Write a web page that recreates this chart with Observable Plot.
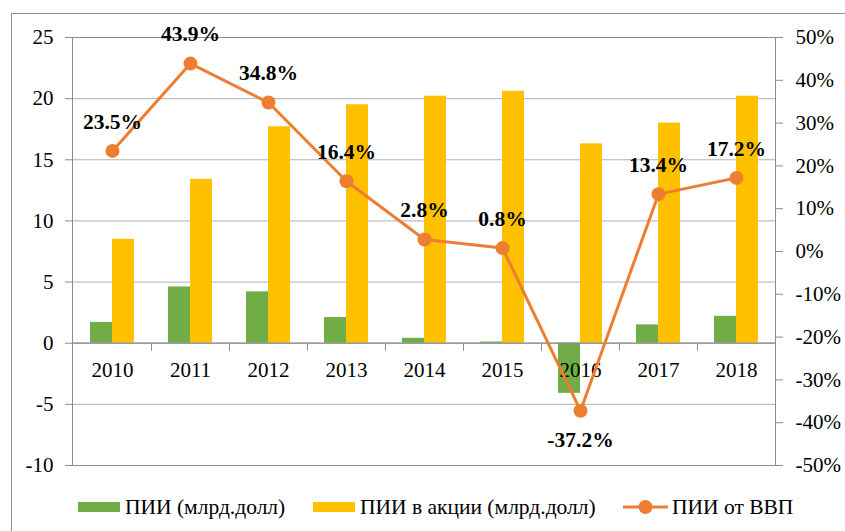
<!DOCTYPE html>
<html>
<head>
<meta charset="utf-8">
<script src="https://cdn.jsdelivr.net/npm/d3@7"></script>
<script src="https://cdn.jsdelivr.net/npm/@observablehq/plot@0.6"></script>
<style>
  html, body { margin: 0; padding: 0; background: #fff; width: 845px; height: 531px; overflow: hidden; }
  body { position: relative; font-family: "Liberation Serif", "Times New Roman", serif; }
  #frame { position: absolute; left: 11px; top: 13px; width: 900px; height: 600px; border: 1px solid #8f8f8f; }
  #chart { position: absolute; left: 0; top: 0; }
  .leg { position: absolute; top: 494px; height: 26px; display: flex; align-items: center; font-size: 21.5px; color: #000; white-space: nowrap; font-family: "Liberation Serif", "Times New Roman", serif; }
  .sw { width: 42px; height: 10px; margin-right: 5px; }
  .lsw { width: 45px; height: 16px; margin-right: 4px; }
</style>
</head>
<body>
<div id="frame"></div>
<div id="chart"></div>
<script>
// ---- data ----
const years = [2010, 2011, 2012, 2013, 2014, 2015, 2016, 2017, 2018];
const fdi = [1.7, 4.6, 4.2, 2.1, 0.4, 0.1, -4.1, 1.5, 2.2];           // ПИИ (млрд.долл)
const fdiEquity = [8.5, 13.4, 17.7, 19.5, 20.2, 20.6, 16.3, 18.0, 20.2]; // ПИИ в акции (млрд.долл)
const fdiGdp = [23.5, 43.9, 34.8, 16.4, 2.8, 0.8, -37.2, 13.4, 17.2];   // ПИИ от ВВП, %
const leftTicks = [-10, -5, 0, 5, 10, 15, 20, 25];
const rightTicks = [-50, -40, -30, -20, -10, 0, 10, 20, 30, 40, 50];
const seriesNames = ["ПИИ (млрд.долл)", "ПИИ в акции (млрд.долл)", "ПИИ от ВВП"];
const colors = ["#70AD47", "#FFC000", "#ED7D31"];

// map percent (right axis, -50..50) onto the left axis (-10..25)
const toLeft = p => -10 + (p + 50) * 0.35;
const fromLeft = v => Math.round((v + 10) / 0.35 - 50);

const barsA = years.map((y, i) => ({year: y, v: fdi[i]}));
const barsB = years.map((y, i) => ({year: y, v: fdiEquity[i]}));
const pts = years.map((y, i) => ({year: y, p: fdiGdp[i]}));

const gridColor = "#b0b0b0";
const axisColor = "#8c8c8c";
const FS = 21;

const chart = Plot.plot({
  width: 845,
  height: 480,
  marginLeft: 72,
  marginRight: 70,
  marginTop: 37,
  marginBottom: 15,
  style: {fontFamily: "'Liberation Serif', 'Times New Roman', serif", fontSize: FS + "px", background: "transparent", color: "#000"},
  x: {type: "band", domain: years, padding: 0, axis: null},
  y: {domain: [-10, 25], axis: null},
  marks: [
    Plot.ruleY(leftTicks, {stroke: gridColor, strokeWidth: 1}),
    Plot.frame({stroke: axisColor}),
    Plot.axisY({anchor: "left", label: null, ticks: leftTicks, tickFormat: d => String(d), tickSize: 7, tickPadding: 12, stroke: axisColor, fill: "#000", fontSize: FS}),
    Plot.axisY({anchor: "right", label: null, ticks: rightTicks.map(toLeft), tickFormat: v => String(fromLeft(v)) + "%", tickSize: 7, tickPadding: 13, stroke: axisColor, fill: "#000", fontSize: FS}),
    Plot.barY(barsA, {x: "year", y: "v", fill: colors[0], insetLeft: 17, insetRight: 39}),
    Plot.barY(barsB, {x: "year", y: "v", fill: colors[1], insetLeft: 39, insetRight: 17}),
    Plot.ruleY([0], {stroke: axisColor, strokeWidth: 1.2}),
    Plot.ruleX(years.slice(1), {x: d => d, dx: -39, y1: 0, y2: -0.65, stroke: axisColor}),
    Plot.text(years, {x: d => d, y: 0, dy: 27, text: d => String(d), fontSize: FS, fill: "#000"}),
    Plot.line(pts, {x: "year", y: d => toLeft(d.p), stroke: colors[2], strokeWidth: 3}),
    Plot.dot(pts, {x: "year", y: d => toLeft(d.p), r: 7, fill: colors[2], stroke: "none"}),
    Plot.text(pts.filter(d => d.p >= 0), {x: "year", y: d => toLeft(d.p), dy: -29, text: d => d.p.toFixed(1) + "%", fontWeight: "bold", fontSize: 21.5, fill: "#000"}),
    Plot.text(pts.filter(d => d.p < 0), {x: "year", y: d => toLeft(d.p), dy: 29, text: d => d.p.toFixed(1) + "%", fontWeight: "bold", fontSize: 21.5, fill: "#000"})
  ]
});
document.getElementById("chart").appendChild(chart);

// ---- legend ----
const legendLeft = [78, 313, 623];
seriesNames.forEach((name, i) => {
  const item = document.createElement("div");
  item.className = "leg";
  item.style.left = legendLeft[i] + "px";
  if (i < 2) {
    item.innerHTML = `<div class="sw" style="background:${colors[i]}"></div><span>${name}</span>`;
  } else {
    item.innerHTML = `<svg class="lsw" width="45" height="16"><line x1="0" y1="8" x2="45" y2="8" stroke="${colors[i]}" stroke-width="3"/><circle cx="22.5" cy="8" r="7" fill="${colors[i]}"/></svg><span>${name}</span>`;
  }
  document.body.appendChild(item);
});
</script>
</body>
</html>
